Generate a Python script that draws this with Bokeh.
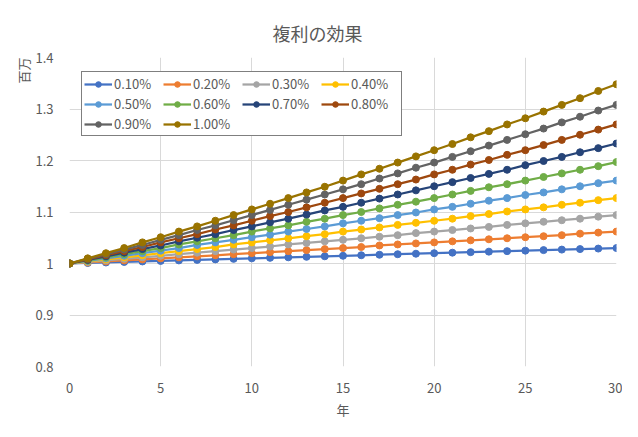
from bokeh.plotting import figure
from bokeh.models import (Legend, LegendItem, Title, FixedTicker,
                          CustomJSTickFormatter, ColumnDataSource)
from bokeh.embed import file_html
from bokeh.resources import INLINE

years = list(range(0, 31))
rate_labels = ["0.10%", "0.20%", "0.30%", "0.40%", "0.50%",
               "0.60%", "0.70%", "0.80%", "0.90%", "1.00%"]

r010 = [1.000, 1.001, 1.002, 1.003, 1.004, 1.005, 1.006, 1.007, 1.008, 1.009, 1.010,
        1.011, 1.012, 1.013, 1.014, 1.015, 1.016, 1.017, 1.018, 1.019, 1.020,
        1.021, 1.022, 1.023, 1.024, 1.025, 1.026, 1.027, 1.028, 1.029, 1.030]
r020 = [1.000, 1.002, 1.004, 1.006, 1.008, 1.010, 1.012, 1.014, 1.016, 1.018, 1.020,
        1.022, 1.024, 1.026, 1.028, 1.030, 1.032, 1.035, 1.037, 1.039, 1.041,
        1.043, 1.045, 1.047, 1.049, 1.051, 1.053, 1.055, 1.058, 1.060, 1.062]
r030 = [1.000, 1.003, 1.006, 1.009, 1.012, 1.015, 1.018, 1.021, 1.024, 1.027, 1.030,
        1.033, 1.037, 1.040, 1.043, 1.046, 1.049, 1.052, 1.055, 1.059, 1.062,
        1.065, 1.068, 1.071, 1.075, 1.078, 1.081, 1.084, 1.087, 1.091, 1.094]
r040 = [1.000, 1.004, 1.008, 1.012, 1.016, 1.020, 1.024, 1.028, 1.032, 1.037, 1.041,
        1.045, 1.049, 1.053, 1.057, 1.062, 1.066, 1.070, 1.075, 1.079, 1.083,
        1.087, 1.092, 1.096, 1.101, 1.105, 1.109, 1.114, 1.118, 1.123, 1.127]
r050 = [1.000, 1.005, 1.010, 1.015, 1.020, 1.025, 1.030, 1.036, 1.041, 1.046, 1.051,
        1.056, 1.062, 1.067, 1.072, 1.078, 1.083, 1.088, 1.094, 1.099, 1.105,
        1.110, 1.116, 1.122, 1.127, 1.133, 1.138, 1.144, 1.150, 1.156, 1.161]
r060 = [1.000, 1.006, 1.012, 1.018, 1.024, 1.030, 1.037, 1.043, 1.049, 1.055, 1.062,
        1.068, 1.074, 1.081, 1.087, 1.094, 1.100, 1.107, 1.114, 1.120, 1.127,
        1.134, 1.141, 1.148, 1.154, 1.161, 1.168, 1.175, 1.182, 1.189, 1.197]
r070 = [1.000, 1.007, 1.014, 1.021, 1.028, 1.035, 1.043, 1.050, 1.057, 1.065, 1.072,
        1.080, 1.087, 1.095, 1.103, 1.110, 1.118, 1.126, 1.134, 1.142, 1.150,
        1.158, 1.166, 1.174, 1.182, 1.191, 1.199, 1.207, 1.216, 1.224, 1.233]
r080 = [1.000, 1.008, 1.016, 1.024, 1.032, 1.041, 1.049, 1.057, 1.066, 1.074, 1.083,
        1.092, 1.100, 1.109, 1.118, 1.127, 1.136, 1.145, 1.154, 1.163, 1.173,
        1.182, 1.192, 1.201, 1.211, 1.220, 1.230, 1.240, 1.250, 1.260, 1.270]
r090 = [1.000, 1.009, 1.018, 1.027, 1.036, 1.046, 1.055, 1.065, 1.074, 1.084, 1.094,
        1.104, 1.114, 1.124, 1.134, 1.144, 1.154, 1.165, 1.175, 1.186, 1.196,
        1.207, 1.218, 1.229, 1.240, 1.251, 1.262, 1.274, 1.285, 1.297, 1.308]
r100 = [1.000, 1.010, 1.020, 1.030, 1.041, 1.051, 1.062, 1.072, 1.083, 1.094, 1.105,
        1.116, 1.127, 1.138, 1.149, 1.161, 1.173, 1.184, 1.196, 1.208, 1.220,
        1.232, 1.245, 1.257, 1.270, 1.282, 1.295, 1.308, 1.321, 1.335, 1.348]

series = [r010, r020, r030, r040, r050, r060, r070, r080, r090, r100]
colors = ["#4472C4", "#ED7D31", "#A5A5A5", "#FFC000", "#5B9BD5",
          "#70AD47", "#264478", "#9E480E", "#636363", "#997300"]

x_ticks = [0, 5, 10, 15, 20, 25, 30]
y_ticks = [0.8, 0.9, 1.0, 1.1, 1.2, 1.3, 1.4]

FONT = "Noto Sans CJK JP"
TXT = "#595959"

p = figure(width=622, height=421, output_backend="svg", toolbar_location=None,
           x_range=(0, 30), y_range=(0.8, 1.4), tools="")
p.min_border_left = 69
p.min_border_right = 6
p.min_border_top = 57
p.min_border_bottom = 54
p.outline_line_color = None
p.background_fill_color = "white"
p.border_fill_color = "white"

for ax in (p.xaxis[0], p.yaxis[0]):
    ax.axis_line_color = None
    ax.major_tick_line_color = None
    ax.minor_tick_line_color = None
    ax.major_label_text_font = FONT
    ax.major_label_text_font_size = "13px"
    ax.major_label_text_color = TXT

p.xaxis.ticker = FixedTicker(ticks=x_ticks)
p.yaxis.ticker = FixedTicker(ticks=y_ticks)
p.yaxis.formatter = CustomJSTickFormatter(code="return String(Math.round(tick*10)/10);")
p.xaxis.major_label_standoff = 10
p.yaxis.major_label_standoff = 10
p.xaxis.axis_label = "年"
p.xaxis.axis_label_text_font = FONT
p.xaxis.axis_label_text_font_size = "13px"
p.xaxis.axis_label_text_font_style = "normal"
p.xaxis.axis_label_text_color = TXT
p.xaxis.axis_label_standoff = 4

p.xgrid.ticker = FixedTicker(ticks=x_ticks)
p.ygrid.ticker = FixedTicker(ticks=y_ticks)
p.xgrid.grid_line_color = "#d9d9d9"
p.ygrid.grid_line_color = "#d9d9d9"

items = []
for lab, vals, col in zip(rate_labels, series, colors):
    src = ColumnDataSource(dict(x=years, y=vals))
    ln = p.line("x", "y", source=src, line_color=col, line_width=2.25, line_join="round")
    sc = p.scatter("x", "y", source=src, size=7, fill_color=col, line_color=col)
    items.append(LegendItem(label=lab, renderers=[ln, sc]))

legend = Legend(items=items, ncols=4, orientation="horizontal", location=(12, 230),
                border_line_color="black", border_line_width=1,
                background_fill_color="white", background_fill_alpha=1,
                label_text_font=FONT, label_text_font_size="13px",
                label_text_color=TXT, glyph_width=28, glyph_height=14,
                label_height=14, label_width=48, label_standoff=2, spacing=1,
                padding=2, margin=0)
p.add_layout(legend, "center")

p.title = Title(text="複利の効果", align="left", offset=203, standoff=24,
                text_line_height=0.7,
                text_font=FONT, text_font_size="18px", text_font_style="normal",
                text_color=TXT)
p.add_layout(Title(text="百万", align="right", standoff=0,
                   text_font=FONT, text_font_size="13px", text_font_style="normal",
                   text_color=TXT), "left")

open("out.html", "w").write(file_html(p, INLINE))
